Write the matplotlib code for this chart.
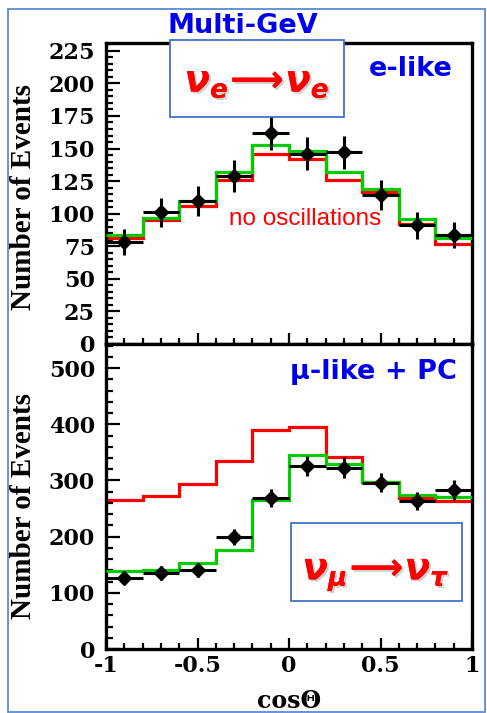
import numpy as np
import matplotlib
matplotlib.use("Agg")
import matplotlib.pyplot as plt
import matplotlib.patheffects as pe
from matplotlib.patches import Rectangle
from matplotlib.ticker import MultipleLocator

# zenith angle bins
edges = np.linspace(-1, 1, 11)
centers = [-0.9, -0.7, -0.5, -0.3, -0.1, 0.1, 0.3, 0.5, 0.7, 0.9]

# e-like, Multi-GeV
e_data = [78, 101, 109.5, 129, 162, 146, 147, 114, 91, 84]
e_err = [10, 11, 11.5, 12, 13, 12.5, 12.5, 11.5, 10.5, 10]
e_noosc = [81, 95, 106, 126, 146, 142, 126, 117, 92, 77]
e_osc = [84, 97, 110, 132, 153, 148, 132, 119, 96, 81]

# mu-like + PC
mu_data = [127, 135, 141, 200, 269, 326, 323, 296, 264, 283]
mu_err = [11, 12, 12, 14, 16, 18, 18, 17, 16, 17]
mu_noosc = [265, 273, 293, 335, 390, 396, 342, 297, 268, 264]
mu_osc = [138, 141, 153, 177, 265, 345, 330, 297, 274, 270]

RED = "#ff0000"
GREEN = "#00cc00"
BLUE = "#0000ee"
BOX = "#4472c4"

plt.rcParams["mathtext.fontset"] = "custom"
plt.rcParams["mathtext.it"] = "DejaVu Sans:italic:bold"
plt.rcParams["mathtext.rm"] = "DejaVu Sans:bold"

W, H = 487, 713
fig = plt.figure(figsize=(W / 100, H / 100), dpi=100)


def fx(px):
    return px / W


def fy(py):
    return 1 - py / H


ax1 = fig.add_axes([fx(106), fy(344), fx(472) - fx(106), fy(43) - fy(344)])
ax2 = fig.add_axes([fx(106), fy(649), fx(472) - fx(106), fy(344) - fy(649)])

tickfont = dict(family="DejaVu Serif", weight="bold", size=16)

for ax, data, err, noosc, osc in [(ax1, e_data, e_err, e_noosc, e_osc),
                                  (ax2, mu_data, mu_err, mu_noosc, mu_osc)]:
    ax.stairs(noosc, edges, baseline=None, color=RED, lw=2.3, zorder=2)
    ax.stairs(osc, edges, baseline=None, color=GREEN, lw=2.3, zorder=3)
    ax.errorbar(centers, data, xerr=0.1, yerr=err, fmt="D", color="black",
                ms=7, elinewidth=2.2, capsize=0, zorder=4)
    ax.set_xlim(-1, 1)
    for s in ax.spines.values():
        s.set_linewidth(2.4)
    ax.xaxis.set_major_locator(MultipleLocator(0.5))
    ax.xaxis.set_minor_locator(MultipleLocator(0.1))
    ax.tick_params(axis="both", which="both", direction="in", right=False, top=False,
                   width=1.6)
    ax.tick_params(axis="y", which="major", length=10, pad=8)
    ax.tick_params(axis="y", which="minor", length=5)
    ax.tick_params(axis="x", which="major", length=8, pad=4)
    ax.tick_params(axis="x", which="minor", length=4)
    ax.set_ylabel("Number of Events", fontsize=21, family="Liberation Serif",
                  weight="bold")

ax1.set_ylim(0, 231)
ax1.yaxis.set_major_locator(MultipleLocator(25))
ax1.yaxis.set_minor_locator(MultipleLocator(5))
ax1.tick_params(axis="x", labelbottom=False)
ax1.yaxis.set_label_coords(-0.189, 0.49)

ax2.set_ylim(0, 543)
ax2.yaxis.set_major_locator(MultipleLocator(100))
ax2.yaxis.set_minor_locator(MultipleLocator(20))
ax2.set_xticks([-1, -0.5, 0, 0.5, 1])
ax2.set_xticklabels(["-1", "-0.5", "0", "0.5", "1"])
ax2.set_xlabel("cosΘ", fontsize=17, family="DejaVu Serif", weight="bold",
               labelpad=9)
ax2.yaxis.set_label_coords(-0.189, 0.47)

for ax in (ax1, ax2):
    for lab in ax.get_yticklabels() + ax.get_xticklabels():
        lab.set_fontproperties(tickfont)

ax1.text(0.09, 96, "no oscillations", color=RED, fontsize=17.5,
         family="Liberation Sans", ha="center", va="center", zorder=5)

# panel titles
fig.text(fx(243), fy(26), "Multi-GeV", color=BLUE, fontsize=19.5, weight="bold",
         ha="center", va="center")
fig.text(fx(411), fy(69), "e-like", color=BLUE, fontsize=19.5, weight="bold",
         ha="center", va="center")
fig.text(fx(373), fy(372), "μ-like + PC", color=BLUE, fontsize=19.5, weight="bold",
         ha="center", va="center")

# oscillation channel boxes
shadow = [pe.withSimplePatchShadow(offset=(1.5, -1.5), shadow_rgbFace="gray", alpha=0.35),
          pe.Normal()]
fig.patches.append(Rectangle((fx(170), fy(117)), fx(344) - fx(170), fy(40) - fy(117),
                             transform=fig.transFigure, fill=True, facecolor="white",
                             edgecolor=BOX, lw=1.3, zorder=5))
fig.text(fx(257), fy(82), r"$\nu_e\!\longrightarrow\!\nu_e$", color=RED, fontsize=27,
         ha="center", va="center", zorder=6, path_effects=shadow)
fig.patches.append(Rectangle((fx(291), fy(601)), fx(462) - fx(291), fy(523) - fy(601),
                             transform=fig.transFigure, fill=True, facecolor="white",
                             edgecolor=BOX, lw=1.3, zorder=5))
fig.text(fx(376), fy(575), r"$\nu_\mu\!\longrightarrow\!\nu_\tau$", color=RED, fontsize=27,
         ha="center", va="center", zorder=6, path_effects=shadow)

# outer frame
fig.patches.append(Rectangle((fx(8), fy(712)), fx(485) - fx(8), fy(9) - fy(712),
                             transform=fig.transFigure, fill=False,
                             edgecolor="#5b8bd5", lw=1.3))

fig.savefig("out.png", dpi=100)
